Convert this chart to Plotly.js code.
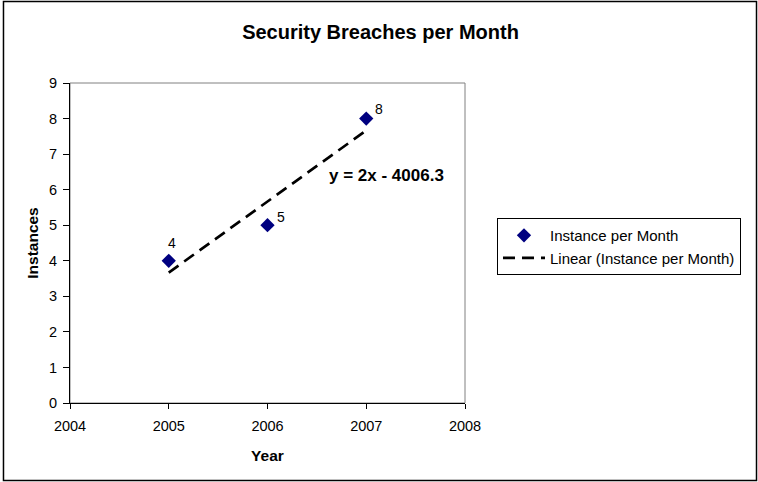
<!DOCTYPE html>
<html>
<head>
<meta charset="utf-8">
<script src="https://cdn.plot.ly/plotly-3.0.1.min.js"></script>
<style>html,body{margin:0;padding:0;background:#fff;}#chart{width:758px;height:482px;}</style>
</head>
<body>
<div id="chart"></div>
<script>
const years = [2005, 2006, 2007];
const instances = [4, 5, 8];
const dataLabels = ["4", "5", "8"];
const trendYears = [2005, 2007];
const trendValues = [3.667, 7.667];
const equationText = "y = 2x - 4006.3";
const xTicks = [2004, 2005, 2006, 2007, 2008];
const yTicks = [0, 1, 2, 3, 4, 5, 6, 7, 8, 9];

const FONT = '"Liberation Sans", Arial, sans-serif';

const traces = [
  {
    x: years, y: instances, type: 'scatter', mode: 'markers',
    name: 'Instance per Month',
    marker: {symbol: 'diamond', color: '#000080', size: 11},
    cliponaxis: false
  },
  {
    x: trendYears, y: trendValues, type: 'scatter', mode: 'lines',
    name: 'Linear (Instance per Month)',
    line: {color: '#000', width: 2.7, dash: '12px,7px'}
  }
];

const labelShifts = [[3, 18], [13, 8], [13, 10]];
const labelAnnotations = years.map((yr, i) => ({
  x: yr, y: instances[i], xref: 'x', yref: 'y', text: dataLabels[i],
  showarrow: false, xshift: labelShifts[i][0], yshift: labelShifts[i][1],
  font: {family: FONT, size: 14, color: '#000'}
}));

const layout = {
  width: 758, height: 482,
  paper_bgcolor: '#fff', plot_bgcolor: '#fff',
  font: {family: FONT, size: 14, color: '#000'},
  margin: {l: 70, r: 293, t: 83, b: 79, autoexpand: false},
  title: {text: '<b>Security Breaches per Month</b>', font: {family: FONT, size: 20, color: '#000'},
          x: 0.502, xanchor: 'center', y: 0.934, yanchor: 'middle'},
  xaxis: {
    range: [2004, 2008], tickvals: xTicks, ticktext: xTicks.map(String),
    showgrid: false, zeroline: false, showline: true, linecolor: '#000', linewidth: 1,
    ticks: 'outside', ticklen: 5, tickcolor: '#000', ticklabelstandoff: 5,
    tickfont: {family: FONT, size: 14.5}, automargin: false,
    title: {text: '<b>Year</b>', font: {family: FONT, size: 15.5}, standoff: 16}
  },
  yaxis: {
    range: [0, 9], tickvals: yTicks,
    showgrid: false, zeroline: false, showline: true, linecolor: '#000', linewidth: 1,
    ticks: 'outside', ticklen: 6, tickcolor: '#000', ticklabelstandoff: 3,
    tickfont: {family: FONT, size: 14.5}, automargin: false,
    title: {text: '<b>Instances</b>', font: {family: FONT, size: 15.5}, standoff: 6}
  },
  legend: {
    x: 1.081, xanchor: 'left', y: 0.578, yanchor: 'top',
    bordercolor: '#000', borderwidth: 1, bgcolor: '#fff',
    font: {family: FONT, size: 15}, tracegroupgap: 0, itemwidth: 42
  },
  annotations: [
    {x: 2007.2, y: 6.4, xref: 'x', yref: 'y', text: '<b>' + equationText + '</b>',
     showarrow: false, font: {family: FONT, size: 17, color: '#000'}}
  ].concat(labelAnnotations),
  shapes: [
    {type: 'rect', xref: 'paper', yref: 'paper', x0: 0, x1: 1, y0: 0, y1: 1,
     line: {color: '#808080', width: 1}, layer: 'below'},
    {type: 'rect', xref: 'paper', yref: 'paper', x0: -0.1684, x1: 1.738, y0: -0.2422, y1: 1.2547,
     line: {color: '#000', width: 1.5}, layer: 'below'}
  ],
  showlegend: true
};

Plotly.newPlot('chart', traces, layout, {displayModeBar: false, staticPlot: true});
</script>
</body>
</html>
